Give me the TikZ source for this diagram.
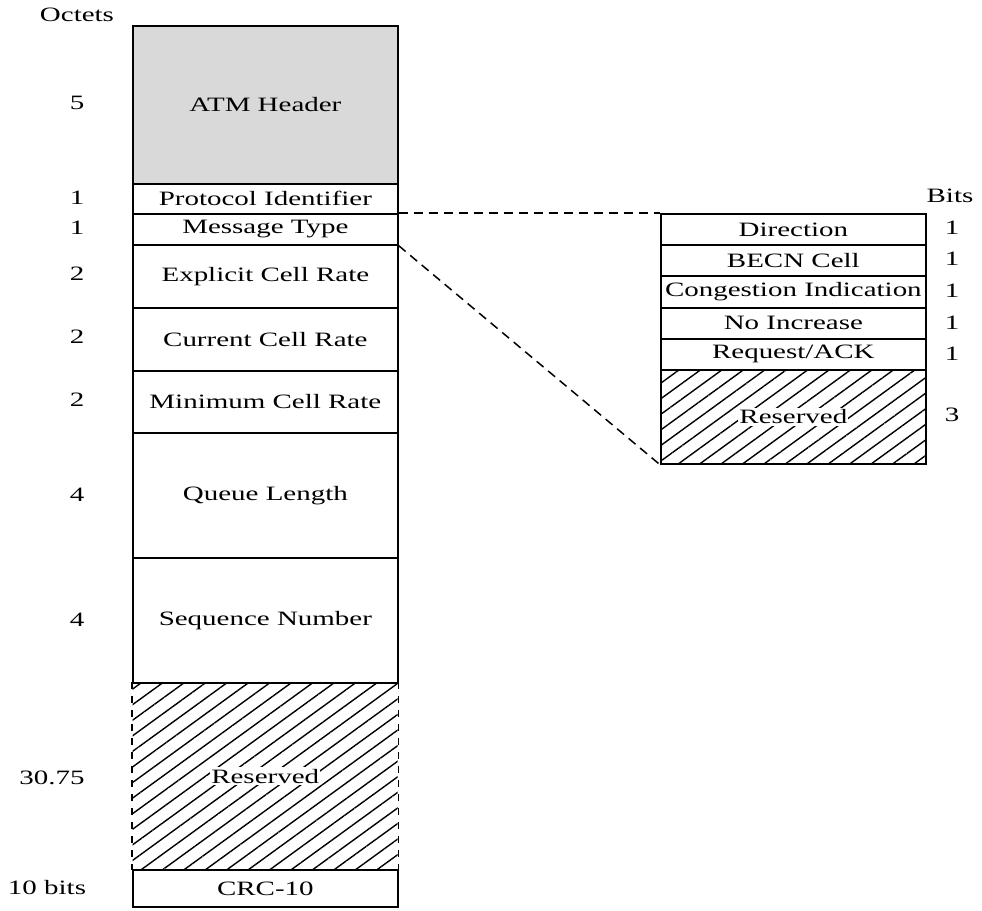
\documentclass[tikz,border=0pt]{standalone}
\usepackage{fontspec}
\setmainfont{Liberation Serif}[FakeStretch=1.42]
\usetikzlibrary{patterns.meta}
\definecolor{hdrgray}{RGB}{217,217,217}
\begin{document}
\begin{tikzpicture}[x=1pt,y=-1pt,
  every node/.style={font=\fontsize{20.4}{24}\selectfont, inner sep=0pt},
  field/.style={draw, line width=1.7pt, anchor=north west, minimum width=265pt},
  hatched/.style={pattern={Lines[angle=36,distance=12.6pt,line width=1.4pt]}},
  lbl/.style={fill=white, inner xsep=1pt, inner ysep=2pt},
  num/.style={anchor=center},
  zoomline/.style={dashed, dash pattern=on 9pt off 6pt, line width=1.5pt}]
\useasboundingbox (0,0) rectangle (982,910);

% main cell layout
\node[field, fill=hdrgray, minimum height=158pt] (atm) at (132,25) {ATM Header};
\node[field, minimum height=30pt] (pid) at (132,183) {Protocol Identifier};
\node[field, minimum height=31pt] (msg) at (132,213) {Message Type};
\node[field, minimum height=63pt] (ecr) at (132,244) {Explicit Cell Rate};
\node[field, minimum height=63pt] (ccr) at (132,307) {Current Cell Rate};
\node[field, minimum height=62pt] (mcr) at (132,370) {Minimum Cell Rate};
\node[field, minimum height=125pt] (ql) at (132,432) {Queue Length};
\node[field, minimum height=125pt] (sn) at (132,557) {Sequence Number};
% reserved block with dashed sides
\node[anchor=north west, minimum width=265pt, minimum height=187pt, hatched] (res) at (132,682) {};
\draw[line width=1.7pt, dash pattern=on 7pt off 7pt] (res.north west) -- (res.south west);
\draw[line width=1.7pt, dash pattern=on 7pt off 7pt] (res.north east) -- (res.south east);
\node[lbl] (reslbl) at (res.center) {Reserved};
\node[field, minimum height=37pt] (crc) at (132,869) {CRC-10};

% octet counts
\node[num] (oct) at (77,15) {Octets};
\node[num] (n1) at (77,103) {5};
\node[num] (n2) at (77,198) {1};
\node[num] (n3) at (77,228) {1};
\node[num] (n4) at (77,274) {2};
\node[num] (n5) at (77,337) {2};
\node[num] (n6) at (77,400) {2};
\node[num] (n7) at (77,495) {4};
\node[num] (n8) at (77,620) {4};
\node[num] (n9) at (52,778) {30.75};
\node[num] (n10) at (47,888) {10 bits};

% message type flags
\node[field, minimum height=31pt] (dir) at (660,213) {Direction};
\node[field, minimum height=31pt] (becn) at (660,244) {BECN Cell};
\node[field, minimum height=32pt] (ci) at (660,275) {Congestion Indication};
\node[field, minimum height=31pt] (ni) at (660,307) {No Increase};
\node[field, minimum height=31pt] (ra) at (660,338) {Request/ACK};
\node[field, minimum height=94pt, hatched] (rres) at (660,369) {};
\node[lbl] (rreslbl) at (rres.center) {Reserved};

% bit counts
\node[num] (bits) at (950,196) {Bits};
\node[num] (b1) at (952,228) {1};
\node[num] (b2) at (952,259) {1};
\node[num] (b3) at (952,291) {1};
\node[num] (b4) at (952,323) {1};
\node[num] (b5) at (952,354) {1};
\node[num] (b6) at (952,415) {3};

% expansion lines
\draw[zoomline] (msg.north east) -- (dir.north west);
\draw[zoomline] (msg.south east) -- (rres.south west);
\end{tikzpicture}
\end{document}
